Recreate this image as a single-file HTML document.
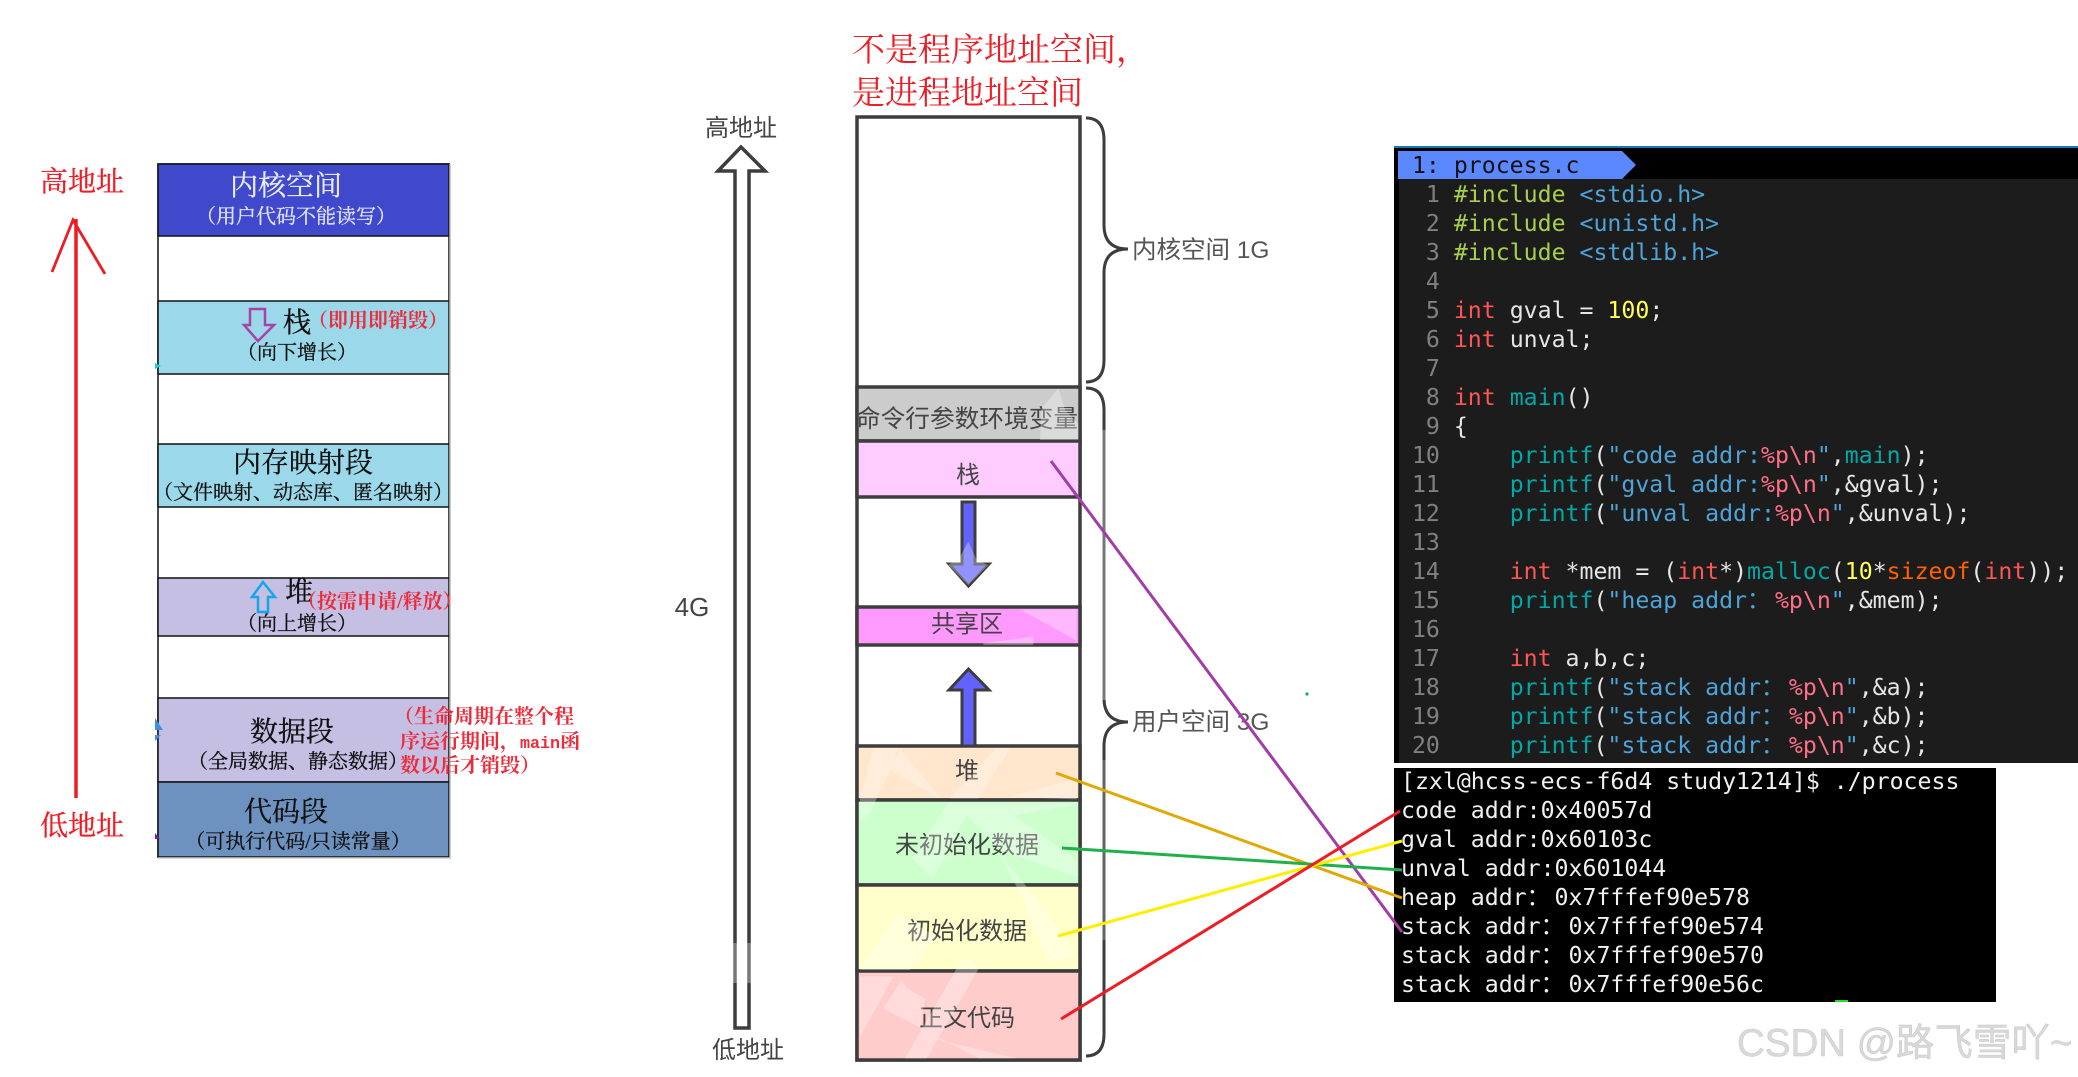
<!DOCTYPE html>
<html><head><meta charset="utf-8">
<style>
html,body{margin:0;padding:0;background:#fff;}
#p{position:relative;width:2078px;height:1077px;overflow:hidden;background:#fff;}
svg{position:absolute;left:0;top:0;}
.ser{font-family:"Liberation Serif","Noto Serif CJK SC",serif;}
.san{font-family:"Liberation Sans","Noto Sans CJK SC",sans-serif;}
pre{position:absolute;margin:0;font-family:"DejaVu Sans Mono","Noto Sans CJK SC",monospace;font-size:23.2px;line-height:29px;color:#e6e6e6;white-space:pre;}
.cw{display:inline-block;width:1ch;}
.n{color:#808080}.d{color:#a9d04c}.h{color:#4ea3d8}.k{color:#ff5555}.y{color:#ffff55}.f{color:#00a8a8}.s{color:#4ea3d8}.e{color:#ff6e8a}.o{color:#ff6000}
</style></head><body><div id="p">
<svg width="2078" height="1077" viewBox="0 0 2078 1077">
<!-- left stack -->
<g stroke="#111" stroke-width="1.5">
<rect x="158" y="164" width="291" height="693" fill="#fff"/>
<rect x="158" y="164" width="291" height="72" fill="#4048cc"/>
<rect x="158" y="301" width="291" height="73" fill="#9bd9ea"/>
<rect x="158" y="444" width="291" height="63" fill="#9bd9ea"/>
<rect x="158" y="578" width="291" height="58" fill="#c6bfe4"/>
<rect x="158" y="698" width="291" height="84" fill="#c6bfe4"/>
<rect x="158" y="782" width="291" height="75" fill="#6e92bf"/>
</g>
<line x1="450" y1="164" x2="450" y2="858" stroke="#bbb" stroke-width="1.5"/>
<line x1="158" y1="858" x2="451" y2="858" stroke="#ccc" stroke-width="1.5"/>
<!-- red arrow -->
<g stroke="#ee1c25" fill="none">
<line x1="76" y1="219" x2="76" y2="798" stroke-width="3.5"/>
<path d="M52 272 L73 220 L105 274" stroke-width="2.8"/>
</g>
<g class="ser" font-size="28" fill="#ee1c25" text-anchor="middle" stroke="#ee1c25" stroke-width=".3">
<text x="82" y="191">高地址</text>
<text x="82" y="835">低地址</text>
</g>
<!-- left stack text -->
<g class="ser" text-anchor="middle" stroke-width=".3">
<text x="286" y="195" font-size="28" fill="#e8ecff" stroke="#e8ecff">内核空间</text>
<text x="296" y="223" font-size="20" fill="#dfe3ff" stroke="#dfe3ff">（用户代码不能读写）</text>
<g fill="#111" stroke="#111">
<text x="297" y="332" font-size="28">栈</text>
<text x="297" y="359" font-size="20">（向下增长）</text>
<text x="303" y="472" font-size="28">内存映射段</text>
<text x="303" y="499" font-size="20">（文件映射、动态库、匿名映射）</text>
<text x="299" y="601" font-size="28">堆</text>
<text x="297" y="630" font-size="20">（向上增长）</text>
<text x="292" y="741" font-size="28">数据段</text>
<text x="298" y="768" font-size="20">（全局数据、静态数据）</text>
<text x="286" y="821" font-size="28">代码段</text>
<text x="298" y="848" font-size="20">（可执行代码/只读常量）</text>
</g>
</g>
<g class="ser" font-weight="bold" font-size="20" fill="#ee2b3a" >
<text x="308" y="327" >（即用即销毁）</text>
<text x="297" y="608" >（按需申请/释放）</text>
<text x="394" y="723">（生命周期在整个程</text>
<text x="400" y="748">序运行期间，<tspan font-family="Liberation Mono" font-size="16.700">main</tspan>函</text>
<text x="400" y="772">数以后才销毁）</text>
</g>
<path d="M250 309 H265 V325 H274 L258 341 L244 325 H250 Z" fill="none" stroke="#a743a7" stroke-width="2.5"/>
<path d="M263 582 L275 597 H268 V612 H258 V597 H252 Z" fill="none" stroke="#11a7e8" stroke-width="2.5"/>
<path d="M155 363 l6 3 l-6 3Z" fill="#2cc"/>
<path d="M155 718 l8 12 l-8 0Z M155 735 l6 0 l-6 6Z" fill="#3a8fe0"/>
<path d="M155 833 l5 6 l-5 0Z" fill="#7a1f8a"/>
<!-- middle stack -->
<g stroke="#3d3d3d" stroke-width="3.5">
<rect x="857" y="117" width="223" height="943" fill="#fff"/>
<rect x="857" y="387" width="223" height="54" fill="#cccccc"/>
<rect x="857" y="441" width="223" height="56" fill="#ffccff"/>
<rect x="857" y="607" width="223" height="38" fill="#ff99ff"/>
<rect x="857" y="746" width="223" height="54" fill="#ffe6cc"/>
<rect x="857" y="800" width="223" height="85" fill="#ccffcc"/>
<rect x="857" y="885" width="223" height="86" fill="#ffffcc"/>
<rect x="857" y="971" width="223" height="89" fill="#ffcccc"/>
</g>
<!-- block arrows -->
<path d="M962 502 H975 V564 H989 L968.500 586 L949 564 H962 Z" fill="#6262ff" stroke="#3d3d3d" stroke-width="3"/>
<path d="M968.500 669 L989 690 H975 V746 H962 V690 H949 Z" fill="#6262ff" stroke="#3d3d3d" stroke-width="3"/>
<!-- tall arrow -->
<path d="M735 1028 V171 H718 L741 147 L765 171 H749 V1028 Z" fill="#fff" stroke="#3d3d3d" stroke-width="3.500"/>
<!-- braces -->
<g fill="none" stroke="#3d3d3d" stroke-width="3">
<path d="M1086 118 Q1104 118 1104 140 V225 Q1104 249 1128 249 Q1104 249 1104 273 V360 Q1104 382 1086 382"/>
<path d="M1086 388 Q1104 388 1104 410 V698 Q1104 722 1128 722 Q1104 722 1104 746 V1034 Q1104 1056 1086 1056"/>
</g>
<!-- middle text -->
<g class="san" fill="#444" text-anchor="middle" font-size="24">
<text x="967" y="427" font-size="24.700">命令行参数环境变量</text>
<text x="968" y="483">栈</text>
<text x="967" y="632">共享区</text>
<text x="967" y="779">堆</text>
<text x="967" y="853">未初始化数据</text>
<text x="967" y="939">初始化数据</text>
<text x="967" y="1026">正文代码</text>
<text x="741" y="136">高地址</text>
<text x="748" y="1058">低地址</text>
<text x="692" y="616" font-size="26">4G</text>
</g>
<g class="san" fill="#555" font-size="24.500">
<text x="1132" y="258">内核空间 1G</text>
<text x="1132" y="730">用户空间 3G</text>
</g>
<!-- watermark -->
<g transform="translate(850,740) scale(.33333)" fill="#fff" opacity=".3">
<polygon points="30,170 70,25 145,25 120,90 50,240 30,240"/>
<polygon points="150,25 270,175 120,90"/>
<polygon points="385,175 480,25 440,25 300,175"/>
<polygon points="480,170 680,115 680,178"/>
<polygon points="185,355 295,190 680,190 680,195 490,225 680,360 680,410 450,330 350,225 250,415"/>
<polygon points="440,330 530,440 680,645 600,670 500,440"/>
<polygon points="30,690 140,520 260,590 180,690"/>
<polygon points="100,805 155,720 170,745 225,775 210,870 265,900 500,955 385,955"/>
<polygon points="165,955 340,650 390,680 230,955"/>
<polygon points="30,890 130,710 30,710"/>
</g>
<g transform="translate(850,380) scale(.33333)" fill="#fff" opacity=".3">
<polygon points="575,85 625,25 645,90 685,130 685,180 570,180"/>
<polygon points="330,530 355,485 380,540 415,555 355,615 295,555"/>
<polygon points="510,688 680,782 680,688"/>
<polygon points="400,790 550,770 550,795 400,795"/>
</g>
<rect x="1100" y="430" width="8" height="270" fill="#fff" opacity=".3"/>
<rect x="1100" y="760" width="8" height="180" fill="#fff" opacity=".2"/>
<rect x="732" y="943" width="20" height="40" fill="#fff" opacity=".3"/>
<g class="ser" fill="#ee1c25" font-size="33">
<text x="852" y="61">不是程序地址空间，</text>
<text x="852" y="104">是进程地址空间</text>
</g>
<!-- panels -->
<rect x="1394" y="146" width="684" height="617" fill="#000"/>
<rect x="1394" y="146" width="684" height="2" fill="#1877b8"/>
<rect x="1399" y="179" width="679" height="584" fill="#1c1c1c"/>
<polygon points="1398,151 1622,151 1636,165 1622,179 1398,179" fill="#5b87ff"/>
<rect x="1394" y="768" width="602" height="234" fill="#000"/>
<rect x="1835" y="1000" width="13" height="2" fill="#22dd22"/>
</svg>
<pre style="left:1398px;top:151px;color:#111"> 1: process.c</pre>
<pre style="left:1398px;top:180px"><span class="n">  1 </span><span class="d">#include</span> <span class="h">&lt;stdio.h&gt;</span>
<span class="n">  2 </span><span class="d">#include</span> <span class="h">&lt;unistd.h&gt;</span>
<span class="n">  3 </span><span class="d">#include</span> <span class="h">&lt;stdlib.h&gt;</span>
<span class="n">  4 </span>
<span class="n">  5 </span><span class="k">int</span> gval = <span class="y">100</span>;
<span class="n">  6 </span><span class="k">int</span> unval;
<span class="n">  7 </span>
<span class="n">  8 </span><span class="k">int</span> <span class="f">main</span>()
<span class="n">  9 </span>{
<span class="n"> 10 </span>    <span class="f">printf</span>(<span class="s">"code addr:</span><span class="e">%p\n</span><span class="s">"</span>,<span class="f">main</span>);
<span class="n"> 11 </span>    <span class="f">printf</span>(<span class="s">"gval addr:</span><span class="e">%p\n</span><span class="s">"</span>,&amp;gval);
<span class="n"> 12 </span>    <span class="f">printf</span>(<span class="s">"unval addr:</span><span class="e">%p\n</span><span class="s">"</span>,&amp;unval);
<span class="n"> 13 </span>
<span class="n"> 14 </span>    <span class="k">int</span> *mem = (<span class="k">int</span>*)<span class="f">malloc</span>(<span class="y">10</span>*<span class="o">sizeof</span>(<span class="k">int</span>));
<span class="n"> 15 </span>    <span class="f">printf</span>(<span class="s">"heap addr<span class="cw">：</span> </span><span class="e">%p\n</span><span class="s">"</span>,&amp;mem);
<span class="n"> 16 </span>
<span class="n"> 17 </span>    <span class="k">int</span> a,b,c;
<span class="n"> 18 </span>    <span class="f">printf</span>(<span class="s">"stack addr<span class="cw">：</span> </span><span class="e">%p\n</span><span class="s">"</span>,&amp;a);
<span class="n"> 19 </span>    <span class="f">printf</span>(<span class="s">"stack addr<span class="cw">：</span> </span><span class="e">%p\n</span><span class="s">"</span>,&amp;b);
<span class="n"> 20 </span>    <span class="f">printf</span>(<span class="s">"stack addr<span class="cw">：</span> </span><span class="e">%p\n</span><span class="s">"</span>,&amp;c);</pre>
<pre style="left:1401px;top:767px;color:#f0f0f0">[zxl@hcss-ecs-f6d4 study1214]$ ./process
code addr:0x40057d
gval addr:0x60103c
unval addr:0x601044
heap addr<span class="cw">：</span> 0x7fffef90e578
stack addr<span class="cw">：</span> 0x7fffef90e574
stack addr<span class="cw">：</span> 0x7fffef90e570
stack addr<span class="cw">：</span> 0x7fffef90e56c</pre>
<svg width="2078" height="1077" viewBox="0 0 2078 1077">
<g fill="none" stroke-width="3">
<line x1="1051" y1="461" x2="1402" y2="932" stroke="#a23da8"/>
<line x1="1056" y1="773" x2="1402" y2="898" stroke="#e0a800"/>
<line x1="1062" y1="848" x2="1402" y2="870" stroke="#1fb04a"/>
<line x1="1058" y1="936" x2="1402" y2="841" stroke="#ffee00"/>
<line x1="1061" y1="1019" x2="1400" y2="811" stroke="#ee1c25"/>
</g>
<circle cx="1307" cy="694" r="1.6" fill="#10b050"/>
<text class="san" x="1737" y="1056" font-size="38.500" fill="#d9d9d9" stroke="#c8c8c8" stroke-width=".5">CSDN @路飞雪吖~</text>
</svg>
</div></body></html>
